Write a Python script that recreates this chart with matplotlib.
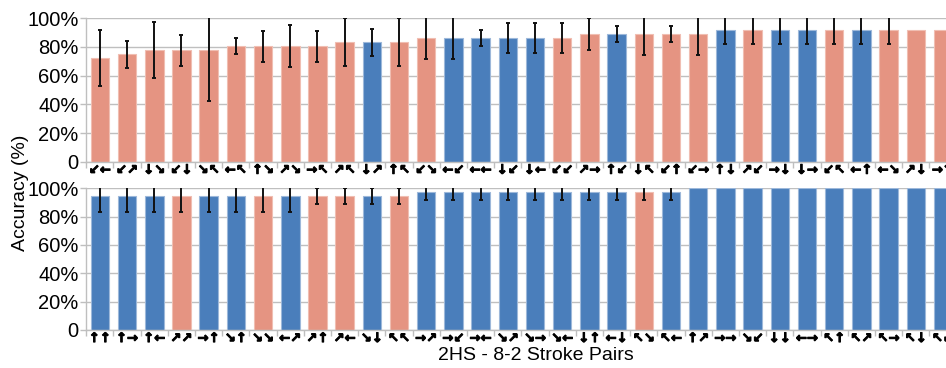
import matplotlib
matplotlib.use('Agg')
import matplotlib.pyplot as plt
import matplotlib.patheffects as pe
import numpy as np

# stroke pairs, accuracy (%) and std error (%), group: 0 = blue, 1 = salmon
top_labels = ['↙←', '↙↗', '↓↘', '↙↓', '↘↖', '←↖', '↑↘', '↗↘', '→↖', '↗↖',
              '↓↗', '↑↖', '↙↘', '←↙', '←←', '↓↙', '↓←', '↙↙', '↗→', '↑↙',
              '↓↖', '↙↑', '↙→', '↑↓', '↗↙', '→↓', '↓→', '↙↖', '←↑', '←↘',
              '↗↓', '→↘']
top_values = [72.2, 75.0, 77.8, 77.8, 77.8, 80.6, 80.6, 80.6, 80.6, 83.3,
              83.3, 83.3, 86.1, 86.1, 86.1, 86.1, 86.1, 86.1, 88.9, 88.9,
              88.9, 88.9, 88.9, 91.7, 91.7, 91.7, 91.7, 91.7, 91.7, 91.7,
              91.7, 91.7]
top_errors = [19.4, 9.5, 19.5, 10.8, 35.7, 5.4, 10.8, 14.4, 10.8, 16.6,
              9.4, 16.6, 14.7, 14.7, 5.6, 10.6, 10.6, 10.6, 11.1, 5.6,
              14.5, 5.6, 14.5, 9.6, 9.6, 9.6, 9.6, 9.6, 9.6, 9.6,
              0, 0]
top_group = [1, 1, 1, 1, 1, 1, 1, 1, 1, 1,
             0, 1, 1, 0, 0, 0, 0, 1, 1, 0,
             1, 1, 1, 0, 1, 0, 0, 1, 0, 1,
             1, 1]

bottom_labels = ['↑↑', '↑→', '↑←', '↗↗', '→↑', '↘↑', '↘↘', '←↗', '↗↑', '↗←',
                 '↘↓', '↖↖', '→↗', '→↙', '→←', '↘↗', '↘→', '↘←', '↓↑', '←↓',
                 '↖↘', '↖←', '↑↗', '→→', '↘↙', '↓↓', '←→', '↖↑', '↖↗', '↖→',
                 '↖↓', '↖↙']
bottom_values = [94.4] * 12 + [97.2] * 10 + [100.0] * 10
bottom_errors = [11.1] * 8 + [5.6] * 14 + [0] * 10
bottom_group = [0, 0, 0, 1, 0, 0, 1, 0, 1, 1,
                0, 1, 0, 0, 0, 0, 0, 0, 0, 0,
                1, 0, 0, 0, 0, 0, 0, 0, 0, 0,
                0, 0]

colors = {0: '#4A7EBB', 1: '#E59482'}
edges = {0: '#9DB8DA', 1: '#F0BEB2'}
grid_col = '#BFBFBF'

plt.rcParams['font.family'] = ['Liberation Sans', 'DejaVu Sans']

fig = plt.figure(figsize=(9.46, 3.68), dpi=100)
ax_top = fig.add_axes([0.0912, 0.5606, 1 - 0.0912, 0.3897])
ax_bot = fig.add_axes([0.0912, 0.1033, 1 - 0.0912, 0.3850])


def draw_panel(ax, labels, values, errors, group):
    x = np.arange(len(values))
    vals = np.array(values) / 100
    errs = np.array(errors) / 100
    ax.bar(x, vals, width=0.68,
           color=[colors[g] for g in group],
           edgecolor=[edges[g] for g in group], linewidth=0.8, zorder=2)
    has = errs > 0
    ax.errorbar(x[has], vals[has], yerr=errs[has], fmt='none', ecolor='#111111',
                elinewidth=1.4, capsize=1.6, capthick=1.4, zorder=3)
    ax.set_xlim(-0.5, 31.11)
    ax.set_ylim(0, 1.0)
    ax.set_yticks(np.linspace(0, 1, 6))
    ax.set_yticklabels(['0'] + ['%d%%' % v for v in range(20, 101, 20)],
                       fontsize=14.5)
    ax.yaxis.grid(True, color=grid_col, linewidth=1, zorder=0)
    ax.set_axisbelow(True)
    ax.set_xticks(x)
    ticklabels = ax.set_xticklabels(labels, family=['DejaVu Sans'],
                                    fontweight='bold', fontsize=9.5)
    # thicken the arrows a little
    for t in ticklabels:
        t.set_path_effects([pe.withStroke(linewidth=0.7, foreground='black')])
    ax.set_xticks(np.arange(len(values)) - 0.5, minor=True)
    ax.tick_params(axis='x', which='major', length=0, pad=1.5)
    ax.tick_params(axis='x', which='minor', length=4, color=grid_col, width=1)
    ax.tick_params(axis='y', length=4, color=grid_col, width=1, pad=1.5)
    for s in ['top', 'right']:
        ax.spines[s].set_visible(False)
    for s in ['left', 'bottom']:
        ax.spines[s].set_color(grid_col)
        ax.spines[s].set_linewidth(1)


draw_panel(ax_top, top_labels, top_values, top_errors, top_group)
draw_panel(ax_bot, bottom_labels, bottom_values, bottom_errors, bottom_group)

fig.text(0.022, 0.475, 'Accuracy (%)', rotation=90, ha='center', va='center',
         fontsize=14)
fig.text(0.566, 0.035, '2HS - 8-2 Stroke Pairs', ha='center', va='center',
         fontsize=14)

fig.savefig('out.png', dpi=100)
